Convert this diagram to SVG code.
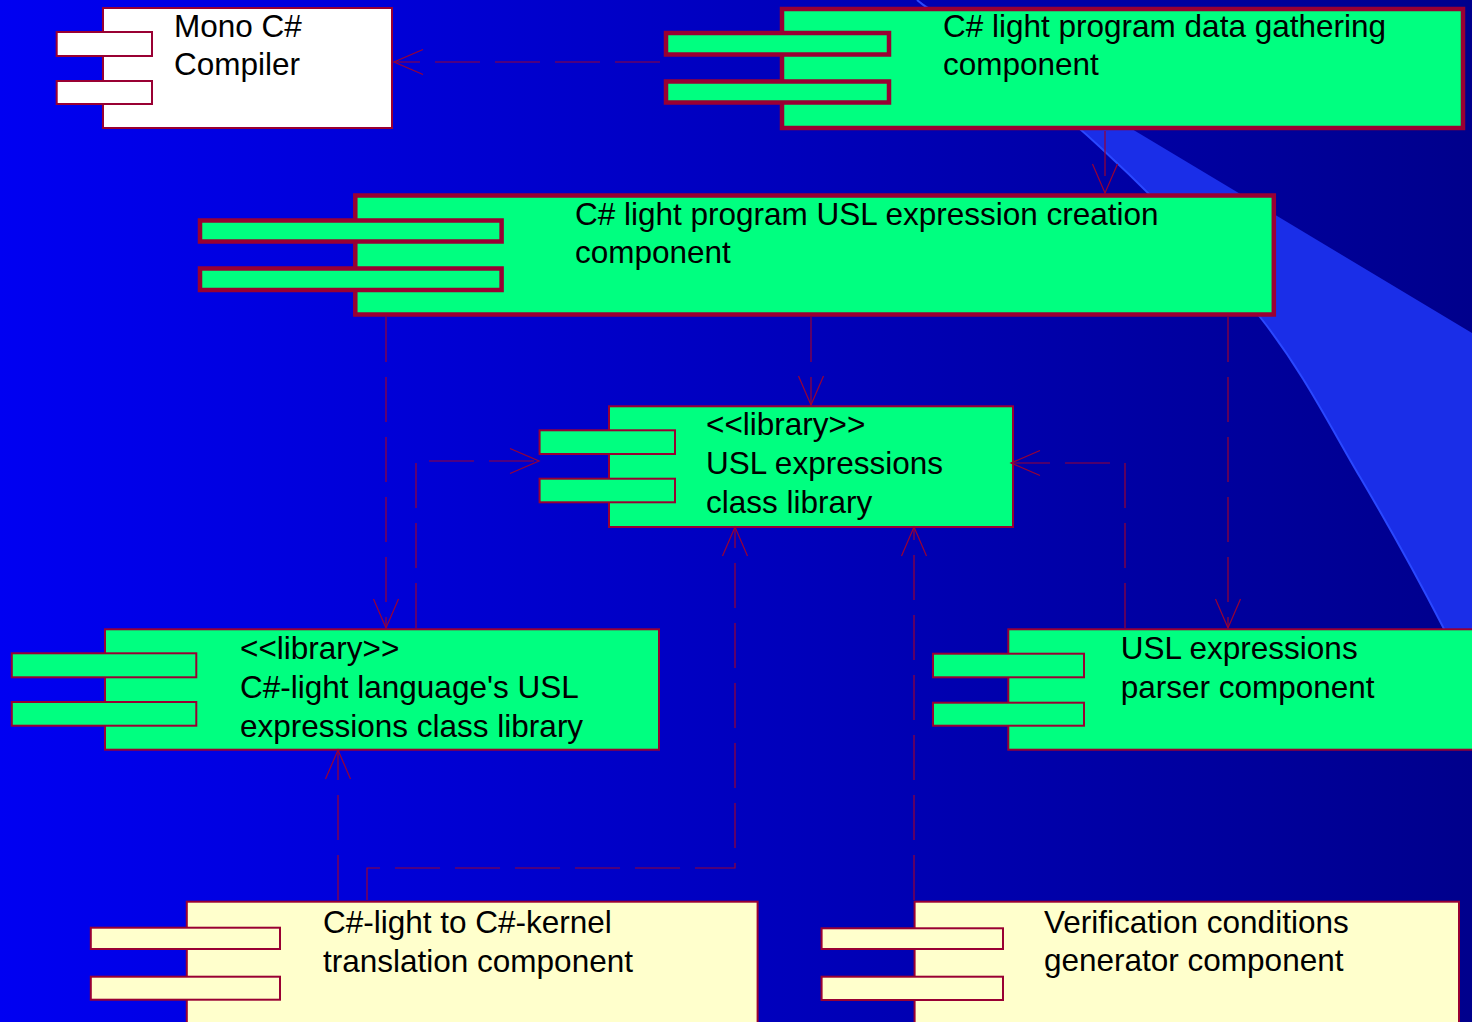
<svg xmlns="http://www.w3.org/2000/svg" width="1472" height="1022" viewBox="0 0 1472 1022">
<defs>
<linearGradient id="bg" x1="0" y1="0" x2="1" y2="0">
<stop offset="0" stop-color="#0000f2"/>
<stop offset="1" stop-color="#00008c"/>
</linearGradient>
<marker id="arr" markerUnits="userSpaceOnUse" markerWidth="34" markerHeight="30" viewBox="-31 -15 33 30" refX="0" refY="0" orient="auto">
<path d="M-29,-12.5 L0,0 L-29,12.5" fill="none" stroke="#990033" stroke-width="1.2" stroke-dasharray="none"/>
</marker>
<style>
.g{fill:#00ff80;stroke:#990033;stroke-width:2}
.gt{fill:#00ff80;stroke:#990033;stroke-width:4.5}
.w{fill:#ffffff;stroke:#990033;stroke-width:2}
.c{fill:#ffffcc;stroke:#990033;stroke-width:2}
.t{font-family:"Liberation Sans",Arial,sans-serif;font-size:31.5px;fill:#000000}
.e{fill:none;stroke:#990033;stroke-width:1.2;stroke-dasharray:45 15;marker-end:url(#arr)}
</style>
</defs>
<rect x="0" y="0" width="1472" height="1022" fill="url(#bg)"/>
<path d="M917,0 C978,49 1042.8,94.2 1100,147 C1157.2,199.8 1216.7,262 1260,317 C1303.3,372 1329.5,425.3 1360,477 C1390.5,528.7 1424.3,590.7 1443,627 C1461.7,663.3 1462.3,672.3 1472,695 L1472,333 Z" fill="#1a2ee8"/>
<path d="M917,0 C978,49 1042.8,94.2 1100,147 C1157.2,199.8 1216.7,262 1260,317 C1303.3,372 1329.5,425.3 1360,477 C1390.5,528.7 1424.3,590.7 1443,627 C1461.7,663.3 1462.3,672.3 1472,695" fill="none" stroke="#2a48ff" stroke-width="2"/>

<g id="node-mono">
<rect class="w" x="103" y="8" width="289" height="120"/>
<rect class="w" x="56.7" y="32" width="95.3" height="24"/>
<rect class="w" x="56.7" y="81" width="95.3" height="23"/>
<text class="t" x="174" y="37">Mono C#</text>
<text class="t" x="174" y="75">Compiler</text>
</g>

<g id="node-gathering">
<rect class="gt" x="782" y="9" width="681" height="119"/>
<rect class="gt" x="666" y="33" width="223" height="21.5"/>
<rect class="gt" x="666" y="81.5" width="223" height="21"/>
<text class="t" x="943" y="37">C# light program data gathering</text>
<text class="t" x="943" y="75">component</text>
</g>

<g id="node-creation">
<rect class="gt" x="355.3" y="195.5" width="918.5" height="119"/>
<rect class="gt" x="200" y="220.5" width="301.6" height="21"/>
<rect class="gt" x="200" y="268.5" width="301.6" height="21.5"/>
<text class="t" x="575" y="225">C# light program USL expression creation</text>
<text class="t" x="575" y="263">component</text>
</g>

<g id="node-usl-lib">
<rect class="g" x="609" y="406.3" width="404" height="120.7"/>
<rect class="g" x="539.6" y="430.3" width="135.4" height="23.7"/>
<rect class="g" x="539.6" y="478.7" width="135.4" height="23.6"/>
<text class="t" x="706" y="435">&lt;&lt;library&gt;&gt;</text>
<text class="t" x="706" y="474">USL expressions</text>
<text class="t" x="706" y="513">class library</text>
</g>

<g id="node-csl-lib">
<rect class="g" x="105" y="629.3" width="554" height="120.4"/>
<rect class="g" x="11.8" y="653.3" width="184.5" height="24"/>
<rect class="g" x="11.8" y="702" width="184.5" height="23.7"/>
<text class="t" x="240" y="659">&lt;&lt;library&gt;&gt;</text>
<text class="t" x="240" y="698">C#-light language's USL</text>
<text class="t" x="240" y="737">expressions class library</text>
</g>

<g id="node-parser">
<rect class="g" x="1008.3" y="629.3" width="480" height="120.4"/>
<rect class="g" x="933" y="653.7" width="151" height="23.6"/>
<rect class="g" x="933" y="702.7" width="151" height="23"/>
<text class="t" x="1120.7" y="659">USL expressions</text>
<text class="t" x="1120.7" y="698">parser component</text>
</g>

<g id="node-translation">
<rect class="c" x="186.8" y="901.7" width="570.8" height="140"/>
<rect class="c" x="90.8" y="927.7" width="189.2" height="21.3"/>
<rect class="c" x="90.8" y="976.7" width="189.2" height="23"/>
<text class="t" x="323" y="933">C#-light to C#-kernel</text>
<text class="t" x="323" y="972">translation component</text>
</g>

<g id="node-vcgen">
<rect class="c" x="914.6" y="901.7" width="544.4" height="140"/>
<rect class="c" x="821.6" y="928.3" width="181.4" height="20.7"/>
<rect class="c" x="821.6" y="976.7" width="181.4" height="23.3"/>
<text class="t" x="1044" y="933">Verification conditions</text>
<text class="t" x="1044" y="971">generator component</text>
</g>

<g id="connectors">
<path class="e" d="M660,62 L394,62"/>
<path class="e" d="M1105,131 L1105,193"/>
<path class="e" d="M386,317 L386,628"/>
<path class="e" d="M811,317 L811,405"/>
<path class="e" d="M1228,317 L1228,628"/>
<path class="e" d="M416,628 L416,461 L539,461"/>
<path class="e" d="M1125,628 L1125,463 L1011,463"/>
<path class="e" d="M338,900 L338,750"/>
<path class="e" d="M367,900 L367,868 L735,868 L735,527"/>
<path class="e" d="M914,900 L914,527"/>
</g>
</svg>
